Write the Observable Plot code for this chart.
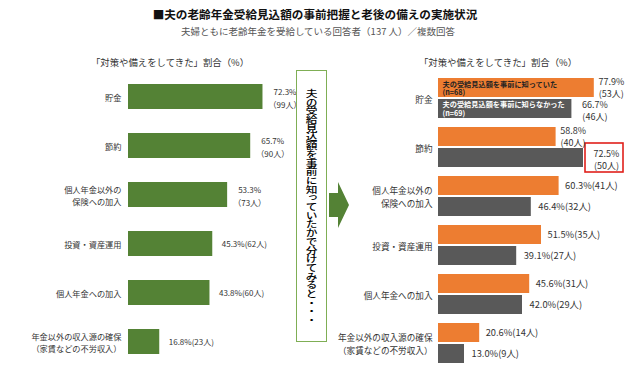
<!DOCTYPE html>
<html><head><meta charset="utf-8">
<script src="https://cdn.jsdelivr.net/npm/d3@7"></script>
<script src="https://cdn.jsdelivr.net/npm/@observablehq/plot@0.6"></script>
<style>
html,body{margin:0;padding:0;background:#fff;}
#wrap{position:relative;width:640px;height:372px;overflow:hidden;font-family:"Noto Sans CJK JP",sans-serif;background:#fff;}
#wrap svg{position:absolute;left:0;top:0;}
.abs{position:absolute;white-space:nowrap;z-index:2;}
#title{left:0;width:630px;top:6px;text-align:center;font-size:11.6px;font-weight:bold;color:#111;line-height:16px;}
#subtitle{left:0;width:636px;top:24px;text-align:center;font-size:9.5px;color:#555;line-height:14px;}
.head{width:200px;top:55px;text-align:center;font-size:9.4px;color:#333;line-height:14px;}
#box{left:296px;top:70px;width:31px;height:272px;box-sizing:border-box;border:1.5px solid #7fae55;background:#fff;}
#vtext{position:absolute;top:18px;left:8px;writing-mode:vertical-rl;font-size:9px;line-height:12px;letter-spacing:-0.3px;transform:scaleX(1.3);transform-origin:center top;font-weight:500;color:#000;white-space:nowrap;}
</style></head><body>
<div id="wrap">
  <div id="title" class="abs">■夫の老齢年金受給見込額の事前把握と老後の備えの実施状況</div>
  <div id="subtitle" class="abs">夫婦ともに老齢年金を受給している回答者（137 人）／複数回答</div>
  <div class="abs head" style="left:70px;">「対策や備えをしてきた」割合（%）</div>
  <div class="abs head" style="left:398px;">「対策や備えをしてきた」割合（%）</div>
  <div id="box" class="abs"><div id="vtext">夫の受給見込額を事前に知っていたかで分けてみると・・・</div></div>
</div>
<script>
const categories = ["貯金", "節約", "個人年金以外の\n保険への加入", "投資・資産運用", "個人年金への加入", "年金以外の収入源の確保\n（家賃などの不労収入）"];
const allPct = [72.3, 65.7, 53.3, 45.3, 43.8, 16.8];
const allCount = [99, 90, 73, 62, 60, 23];
const knownPct = [77.9, 58.8, 60.3, 51.5, 45.6, 20.6];
const knownCount = [53, 40, 41, 35, 31, 14];
const unknownPct = [66.7, 72.5, 46.4, 39.1, 42.0, 13.0];
const unknownCount = [46, 50, 32, 27, 29, 9];
const seriesNames = ["夫の受給見込額を事前に知っていた", "夫の受給見込額を事前に知らなかった"];
const seriesN = [68, 69];
const highlightCategory = "節約";

const FONT = '"Noto Sans CJK JP", sans-serif';
const GREEN = "#548235", ORANGE = "#ED7D31", GRAY = "#595959", TXT = "#333";

const rows = (pcts, counts) => categories.map((cat, i) => ({cat, pct: pcts[i], n: counts[i], i}));
const leftRows = rows(allPct, allCount);
const knownRows = rows(knownPct, knownCount);
const unknownRows = rows(unknownPct, unknownCount);

const left = Plot.plot({
  width: 640, height: 372,
  style: {background: "transparent", fontFamily: FONT, overflow: "visible"},
  x: {domain: [0, 100], range: [128, 314], axis: null},
  y: {type: "band", domain: categories, range: [69.7, 367.3], paddingInner: 0.49, paddingOuter: 0.245, align: 0.5, axis: null},
  marks: [
    Plot.barX(leftRows, {x: "pct", y: "cat", fill: GREEN}),
    Plot.text(leftRows, {filter: d => d.i < 3, x: "pct", y: "cat", dx: 22, textAnchor: "middle",
      text: d => `${d.pct.toFixed(1)}%\n（${d.n}人）`, fontSize: 8, lineHeight: 1.65, fill: TXT}),
    Plot.text(leftRows, {filter: d => d.i >= 3, x: "pct", y: "cat", dx: 9, textAnchor: "start",
      text: d => `${d.pct.toFixed(1)}%(${d.n}人)`, fontSize: 8, fill: TXT}),
    Plot.text(categories, {x: () => 0, y: d => d, text: d => d, dx: -7, textAnchor: "end", fontSize: 8.2, lineHeight: 1.45, fill: TXT})
  ]
});

const right = Plot.plot({
  width: 640, height: 372,
  style: {background: "transparent", fontFamily: FONT, overflow: "visible"},
  x: {domain: [0, 100], range: [438, 638], axis: null},
  y: {type: "band", domain: categories, range: [70.55, 369.95], paddingInner: 0.178, paddingOuter: 0.089, align: 0.5, axis: null},
  marks: [
    Plot.barX(knownRows, {x: "pct", y: "cat", fill: ORANGE, insetBottom: 21}),
    Plot.barX(unknownRows, {x: "pct", y: "cat", fill: GRAY, insetTop: 21}),
    Plot.barX(unknownRows, {filter: d => d.cat === highlightCategory, x1: d => d.pct + 1, x2: d => d.pct + 20, y: "cat",
      fill: "none", stroke: "#e0201b", strokeWidth: 1.6, insetTop: 16, insetBottom: -5}),
    Plot.text(knownRows, {filter: d => d.i === 0, x: () => 0, y: "cat", dx: 4, dy: -10.25, textAnchor: "start",
      text: () => `${seriesNames[0]}\n(n=${seriesN[0]})`, fontSize: 7.2, fontWeight: "bold", fill: "#222", lineHeight: 1.2}),
    Plot.text(unknownRows, {filter: d => d.i === 0, x: () => 0, y: "cat", dx: 4, dy: 10.25, textAnchor: "start",
      text: () => `${seriesNames[1]}\n(n=${seriesN[1]})`, fontSize: 7.2, fontWeight: "bold", fill: "#fff", lineHeight: 1.2}),
    Plot.text(knownRows, {filter: d => d.i < 2, x: "pct", y: "cat", dx: 17, dy: -11, textAnchor: "middle",
      text: d => `${d.pct.toFixed(1)}%\n(${d.n}人)`, fontSize: 9, lineHeight: 1.35, fill: TXT}),
    Plot.text(unknownRows, {filter: d => d.i < 2, x: "pct", y: "cat", dx: 23, dy: 12, textAnchor: "middle",
      text: d => `${d.pct.toFixed(1)}%\n(${d.n}人)`, fontSize: 9, lineHeight: 1.35, fill: TXT}),
    Plot.text(knownRows, {filter: d => d.i >= 2, x: "pct", y: "cat", dx: 6, dy: -10.25, textAnchor: "start",
      text: d => `${d.pct.toFixed(1)}%(${d.n}人)`, fontSize: 9.3, fill: TXT}),
    Plot.text(unknownRows, {filter: d => d.i >= 2, x: "pct", y: "cat", dx: 7, dy: 10.25, textAnchor: "start",
      text: d => `${d.pct.toFixed(1)}%(${d.n}人)`, fontSize: 9.3, fill: TXT}),
    Plot.text(categories, {x: () => 0, y: d => d, text: d => d, dx: -6, textAnchor: "end", fontSize: 8.6, lineHeight: 1.5, fill: TXT})
  ]
});

const wrap = document.getElementById("wrap");
wrap.insertBefore(right, wrap.firstChild);
wrap.insertBefore(left, wrap.firstChild);

// decorative arrow between the two panels
const ns = "http://www.w3.org/2000/svg";
const arrow = document.createElementNS(ns, "svg");
arrow.setAttribute("width", 640); arrow.setAttribute("height", 372);
arrow.style.position = "absolute"; arrow.style.left = "0"; arrow.style.top = "0"; arrow.style.zIndex = "1";
const poly = document.createElementNS(ns, "polygon");
poly.setAttribute("points", "329,193 338,193 338,182 349,205 338,228 338,217 329,217");
poly.setAttribute("fill", GREEN);
arrow.appendChild(poly);
wrap.appendChild(arrow);
</script>
</body></html>
